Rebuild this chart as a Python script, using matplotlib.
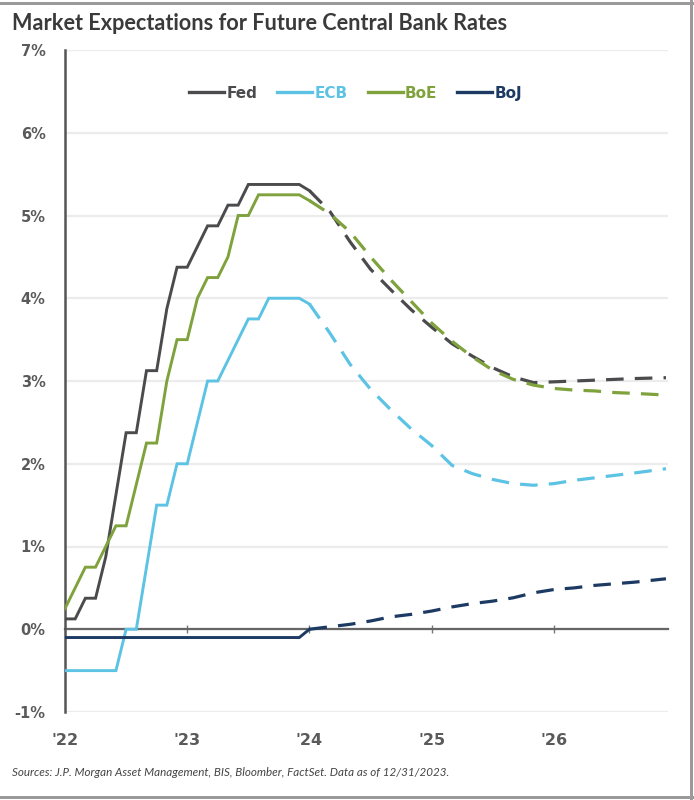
import matplotlib
matplotlib.use("Agg")
import matplotlib.pyplot as plt
from matplotlib.lines import Line2D
from matplotlib.patches import Rectangle

# Monthly history, Jan 2022 (month 0) through Jan 2024 (month 24)
hist_months = list(range(25))
fed_hist = [0.125, 0.125, 0.375, 0.375, 0.875, 1.625, 2.375, 2.375, 3.125, 3.125,
            3.875, 4.375, 4.375, 4.625, 4.875, 4.875, 5.125, 5.125, 5.375, 5.375,
            5.375, 5.375, 5.375, 5.375, 5.30]
ecb_hist = [-0.5, -0.5, -0.5, -0.5, -0.5, -0.5, 0.0, 0.0, 0.75, 1.5,
            1.5, 2.0, 2.0, 2.5, 3.0, 3.0, 3.25, 3.5, 3.75, 3.75,
            4.0, 4.0, 4.0, 4.0, 3.93]
boe_hist = [0.25, 0.5, 0.75, 0.75, 1.0, 1.25, 1.25, 1.75, 2.25, 2.25,
            3.0, 3.5, 3.5, 4.0, 4.25, 4.25, 4.5, 5.0, 5.0, 5.25,
            5.25, 5.25, 5.25, 5.25, 5.18]
boj_hist = [-0.1] * 24 + [0.0]

# Market-implied path, Jan 2024 onward
fc_months = [24, 26, 28, 30, 32, 34, 36, 38, 40, 42, 44, 46, 48, 50, 52, 54, 56, 59]
fed_fc = [5.30, 5.05, 4.68, 4.35, 4.10, 3.86, 3.65, 3.45, 3.30, 3.16, 3.05, 2.98,
          2.99, 3.00, 3.01, 3.02, 3.03, 3.04]
ecb_fc = [3.93, 3.58, 3.20, 2.90, 2.65, 2.42, 2.22, 1.98, 1.88, 1.81, 1.76, 1.74,
          1.76, 1.80, 1.83, 1.86, 1.89, 1.94]
boe_fc = [5.18, 5.02, 4.80, 4.50, 4.22, 3.96, 3.70, 3.48, 3.29, 3.13, 3.02, 2.95,
          2.91, 2.89, 2.88, 2.86, 2.85, 2.83]
boj_fc = [0.0, 0.03, 0.06, 0.10, 0.15, 0.18, 0.22, 0.27, 0.31, 0.34, 0.38, 0.44,
          0.48, 0.50, 0.53, 0.55, 0.57, 0.61]

series_names = ["Fed", "ECB", "BoE", "BoJ"]
year_ticks = [0, 12, 24, 36, 48]
year_labels = ["'22", "'23", "'24", "'25", "'26"]
y_ticks = [-1, 0, 1, 2, 3, 4, 5, 6, 7]
y_labels = ["-1%", "0%", "1%", "2%", "3%", "4%", "5%", "6%", "7%"]

colors = {"Fed": "#4b4b4d", "ECB": "#5cc3e4", "BoE": "#7fa23c", "BoJ": "#1d3a63"}
hist = {"Fed": fed_hist, "ECB": ecb_hist, "BoE": boe_hist, "BoJ": boj_hist}
fc = {"Fed": fed_fc, "ECB": ecb_fc, "BoE": boe_fc, "BoJ": boj_fc}

W, H = 694, 800
fig = plt.figure(figsize=(W / 100, H / 100), dpi=100)
fig.patch.set_facecolor("white")

# outer frame (top, right, bottom)
for (x0, y0, w, h) in [(0, H - 5, W, 3), (W - 4, 0, 2.5, H), (0, 1, W, 3)]:
    fig.patches.append(Rectangle((x0 / W, y0 / H), w / W, h / H,
                                 transform=fig.transFigure, color="#9a9a9a", lw=0))

ax = fig.add_axes([65 / W, 1 - 712 / H, 603 / W, 662 / H])
ax.set_xlim(0, 59.2)
ax.set_ylim(-1, 7)

for yv in y_ticks:
    ax.axhline(yv, color="#ececec", lw=1.6, zorder=0)

lw = 2.1
for name in series_names:
    c = colors[name]
    ax.plot(hist_months, hist[name], color=c, lw=lw, solid_joinstyle="miter", zorder=3)
    ax.plot(fc_months, fc[name], color=c, lw=lw + 0.2, dashes=(5.5, 3.5), zorder=3)

for s in ["top", "right", "bottom"]:
    ax.spines[s].set_visible(False)
ax.spines["left"].set_color("#555555")
ax.spines["left"].set_linewidth(1.8)

ax.set_yticks(y_ticks)
ax.set_yticklabels(y_labels)
ax.set_xticks(year_ticks)
ax.set_xticklabels(year_labels)
ax.tick_params(axis="y", length=0, pad=14, labelsize=10.5, labelcolor="#5a5a5a")
ax.tick_params(axis="x", length=0, pad=15, labelsize=11.5, labelcolor="#5a5a5a")
for t in ax.get_yticklabels() + ax.get_xticklabels():
    t.set_fontweight("bold")
    t.set_family(["Liberation Sans Narrow", "DejaVu Sans"])

# zero line with crossing ticks
zax = ax.secondary_xaxis(1 / 8)
zax.spines["bottom"].set_color("#666666")
zax.spines["bottom"].set_linewidth(1.6)
zax.set_xticks(year_ticks[1:])
zax.tick_params(direction="inout", length=6, width=1, color="#777777", labelbottom=False)

handles = [Line2D([], [], color=colors[n], lw=2.4) for n in series_names]
leg = ax.legend(handles, series_names, ncol=4, loc="center", frameon=False,
                bbox_to_anchor=(0.482, 0.935), handlelength=2.3, handletextpad=0.15,
                columnspacing=1.3,
                prop={"family": ["Liberation Sans Narrow", "DejaVu Sans"],
                      "weight": "bold", "size": 11})
for t, n in zip(leg.get_texts(), series_names):
    t.set_color(colors[n])

fig.text(12 / W, 1 - 24 / H, "Market Expectations for Future Central Bank Rates",
         ha="left", va="center", fontsize=15.6, fontweight="bold",
         family=["Lato", "DejaVu Sans"], color="#3a3a3a")
fig.text(12 / W, 1 - 772 / H,
         "Sources: J.P. Morgan Asset Management, BIS, Bloomber, FactSet. Data as of 12/31/2023.",
         ha="left", va="center", fontsize=8.4, style="italic",
         family=["Lato", "DejaVu Sans"], color="#444444")

fig.savefig("out.png", dpi=100, facecolor="white")
